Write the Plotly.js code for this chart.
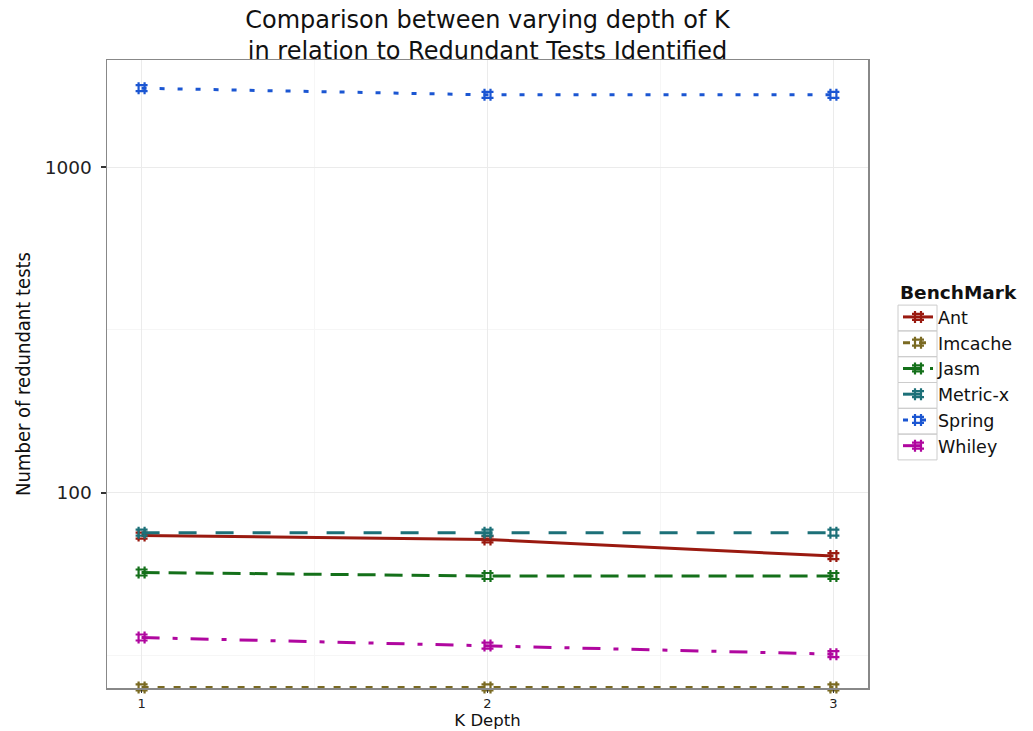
<!DOCTYPE html>
<html>
<head>
<meta charset="utf-8">
<script src="https://cdn.plot.ly/plotly-3.0.1.min.js"></script>
<style>html,body{margin:0;padding:0;background:#fff;}#chart{width:1033px;height:731px;}</style>
</head>
<body>
<div id="chart"></div>
<script>
// K depth values
const kDepth = [1, 2, 3];
// Benchmarks
const benchmarks = ["Ant", "Imcache", "Jasm", "Metric-x", "Spring", "Whiley"];
// Number of redundant tests per benchmark
const antTests     = [74, 72, 64];
const imcacheTests = [25.3, 25.3, 25.3];
const jasmTests    = [57, 55.6, 55.6];
const metricxTests = [75.5, 75.5, 75.5];
const springTests  = [1745, 1665, 1665];
const whileyTests  = [36, 34, 32];
const yTickVals = [100, 1000];
const yTickText = ["100", "1000"];
const xTickVals = [1, 2, 3];

const series = [antTests, imcacheTests, jasmTests, metricxTests, springTests, whileyTests];
const colors = ["#9a1a10", "#7a6a22", "#14701a", "#1c7078", "#1b56d2", "#b0079f"];
const dashes = ["solid", "7px,9px", "18px,9px", "18px,19px", "5px,13px", "18px,13px,5px,13px"];

const traces = benchmarks.map((name, i) => ({
  x: kDepth,
  y: series[i],
  name: name,
  type: "scatter",
  mode: "lines+markers",
  line: {color: colors[i], width: 3, dash: dashes[i]},
  marker: {symbol: "hash", size: 12, color: colors[i], line: {color: colors[i], width: 2.2}},
  cliponaxis: false
}));

const L = 107, R = 868, T = 60, B = 688;
const px = v => (v - L) / (R - L);
const py = v => (B - v) / (B - T);
const shapes = [];
for (let i = 0; i < 6; i++) {
  const c = 318 + 25.8 * i;
  shapes.push({type: "rect", xref: "paper", yref: "paper",
    x0: px(898), x1: px(937), y0: py(c - 12.9), y1: py(c + 12.9),
    line: {color: "#cccccc", width: 1}, fillcolor: "rgba(0,0,0,0)", layer: "below"});
}

const layout = {
  width: 1033, height: 731,
  margin: {l: L, r: 1033 - R, t: T, b: 731 - B},
  paper_bgcolor: "#ffffff", plot_bgcolor: "#ffffff",
  font: {family: "DejaVu Sans", color: "#222"},
  title: {
    text: "Comparison between varying depth of K<br>in relation to Redundant Tests Identified",
    font: {family: "DejaVu Sans", size: 24, color: "#111"},
    x: 0.5, xref: "paper", xanchor: "center",
    y: 0.962, yref: "container", yanchor: "top"
  },
  xaxis: {
    range: [0.9, 3.1],
    tickvals: xTickVals, ticktext: xTickVals.map(String),
    ticks: "outside", ticklen: 3, tickwidth: 1.5, tickcolor: "#333",
    tickfont: {size: 13, color: "#222"},
    showline: true, linecolor: "#888", linewidth: 1.5, mirror: true,
    showgrid: true, gridcolor: "#ebebeb", gridwidth: 1,
    minor: {tickvals: [1.5, 2.5], showgrid: true, gridcolor: "#f6f6f6", gridwidth: 1, ticks: ""},
    zeroline: false,
    title: {text: "K Depth", font: {size: 16.5, color: "#111"}, standoff: 0}
  },
  yaxis: {
    type: "log",
    range: [Math.log10(25.2), Math.log10(2130)],
    tickvals: yTickVals, ticktext: yTickText,
    ticks: "outside", ticklen: 5, tickwidth: 1.5, tickcolor: "#333",
    ticklabelstandoff: 5,
    tickfont: {size: 18.5, color: "#222"},
    showline: true, linecolor: "#888", linewidth: 1.5, mirror: true,
    showgrid: true, gridcolor: "#ebebeb", gridwidth: 1,
    minor: {tickvals: [31.62, 316.2], showgrid: true, gridcolor: "#f6f6f6", gridwidth: 1, ticks: ""},
    zeroline: false,
    title: {text: "Number of redundant tests", font: {family: "DejaVu Sans Condensed, DejaVu Sans", size: 20, color: "#111"}, standoff: 8}
  },
  legend: {
    x: px(898), xanchor: "left", y: py(275), yanchor: "top",
    bgcolor: "rgba(0,0,0,0)", borderwidth: 0,
    font: {size: 17.5, color: "#111"},
    title: {text: "<b>BenchMark</b>", font: {size: 18.5, color: "#111"}},
    tracegroupgap: 0
  },
  shapes: shapes,
  showlegend: true
};

Plotly.newPlot("chart", traces, layout, {displayModeBar: false, staticPlot: true});
</script>
</body>
</html>
